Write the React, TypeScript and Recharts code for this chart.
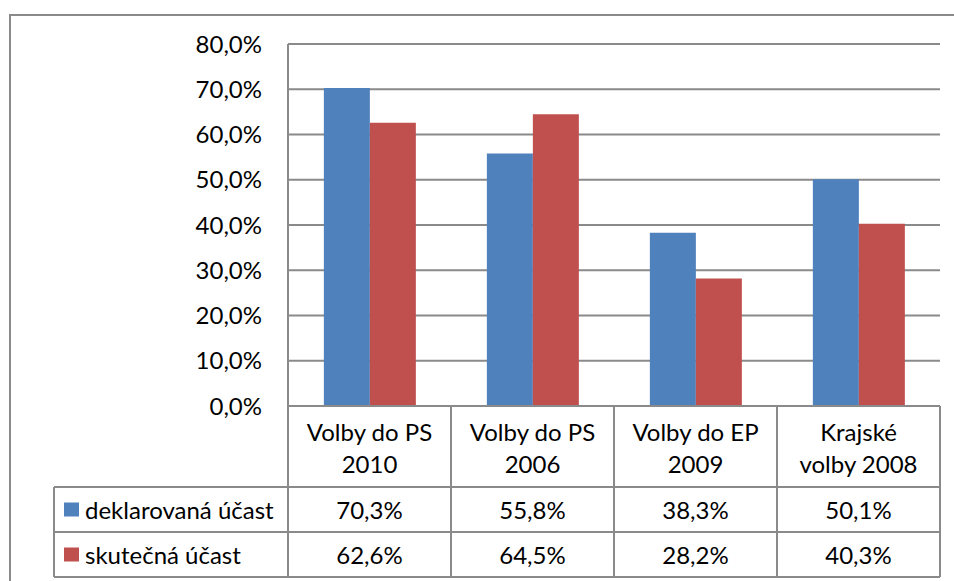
import React from 'react';
import { BarChart, Bar, XAxis, YAxis, CartesianGrid } from 'recharts';

const categories = ['Volby do PS 2010', 'Volby do PS 2006', 'Volby do EP 2009', 'Krajské volby 2008'];
const categoryLines = [
  ['Volby do PS', '2010'],
  ['Volby do PS', '2006'],
  ['Volby do EP', '2009'],
  ['Krajské', 'volby 2008'],
];
const declared = [70.3, 55.8, 38.3, 50.1];
const actual = [62.6, 64.5, 28.2, 40.3];
const seriesNames = ['deklarovaná účast', 'skutečná účast'];
const seriesColors = ['#4F81BD', '#C0504D'];
const yTicks = [0, 10, 20, 30, 40, 50, 60, 70, 80];

const data = categories.map((c, i) => ({ category: c, declared: declared[i], actual: actual[i] }));
const fmt = (v: number) => v.toFixed(1).replace('.', ',') + '%';

const FONT = 'Lato, sans-serif';
const FS = 24;
const LINE = '#8a8a8a';
const LW = 2;
const HEADER_H = 81;
const ROW_H = 45;
const LEGEND_LEFT = 54;

function TableTick(props: any) {
  const { x, y, payload } = props;
  const i: number = payload && payload.index != null ? payload.index : props.index;
  const half = payload && payload.offset ? payload.offset : 81.5;
  const left = x - half;
  const right = x + half;
  const y0 = y;
  const y1 = y0 + HEADER_H;
  const y2 = y1 + ROW_H;
  const y3 = y2 + ROW_H;
  const vals = [declared[i], actual[i]];
  const ln = { stroke: LINE, strokeWidth: LW };
  const txt = { fontFamily: FONT, fontSize: FS, fill: '#000', dominantBaseline: 'central' as const };
  return (
    <g>
      <line x1={right} y1={y0} x2={right} y2={y3} {...ln} />
      <line x1={left} y1={y1} x2={right} y2={y1} {...ln} />
      <line x1={left} y1={y2} x2={right} y2={y2} {...ln} />
      <line x1={left} y1={y3} x2={right} y2={y3} {...ln} />
      {i === 0 && (
        <g>
          <line x1={left} y1={y0} x2={left} y2={y3} {...ln} />
          <line x1={LEGEND_LEFT} y1={y1} x2={LEGEND_LEFT} y2={y3} {...ln} />
          <line x1={LEGEND_LEFT} y1={y1} x2={left} y2={y1} {...ln} />
          <line x1={LEGEND_LEFT} y1={y2} x2={left} y2={y2} {...ln} />
          <line x1={LEGEND_LEFT} y1={y3} x2={left} y2={y3} {...ln} />
          {seriesNames.map((n, k) => (
            <g key={n}>
              <rect x={LEGEND_LEFT + 10} y={y1 + k * ROW_H + ROW_H / 2 - 7} width={15} height={14} fill={seriesColors[k]} />
              <text x={LEGEND_LEFT + 31} y={y1 + k * ROW_H + ROW_H / 2} {...txt} textAnchor="start">{n}</text>
            </g>
          ))}
        </g>
      )}
      <text x={x} y={y0 + 25} {...txt} textAnchor="middle">{categoryLines[i][0]}</text>
      <text x={x} y={y0 + 57} {...txt} textAnchor="middle">{categoryLines[i][1]}</text>
      {vals.map((v, k) => (
        <text key={k} x={x} y={y1 + k * ROW_H + ROW_H / 2} {...txt} textAnchor="middle">{fmt(v)}</text>
      ))}
    </g>
  );
}

export default function App() {
  return (
    <div style={{ position: 'absolute', left: 0, top: 0, width: 954, height: 581, overflow: 'hidden', background: '#fff' }}>
      <div
        style={{
          position: 'absolute',
          left: 9,
          top: 14,
          width: 943,
          height: 565,
          borderLeft: `2px solid ${LINE}`,
          borderTop: `2px solid ${LINE}`,
        }}
      />
      <BarChart
        width={954}
        height={581}
        data={data}
        margin={{ top: 44, right: 14, left: 0, bottom: 0 }}
        barCategoryGap="22%"
        barGap={0}
      >
        <CartesianGrid vertical={false} stroke={LINE} strokeWidth={LW} />
        <XAxis
          dataKey="category"
          height={175}
          axisLine={{ stroke: LINE, strokeWidth: LW }}
          tickLine={false}
          tickSize={0}
          tickMargin={0}
          interval={0}
          tick={<TableTick />}
        />
        <YAxis
          width={288}
          domain={[0, 80]}
          ticks={yTicks}
          tickFormatter={fmt}
          axisLine={{ stroke: LINE, strokeWidth: LW }}
          tickLine={false}
          tickSize={0}
          tickMargin={26}
          tick={{ fontFamily: FONT, fontSize: FS, fill: '#000' }}
        />
        <Bar dataKey="declared" name={seriesNames[0]} fill={seriesColors[0]} isAnimationActive={false} />
        <Bar dataKey="actual" name={seriesNames[1]} fill={seriesColors[1]} isAnimationActive={false} />
      </BarChart>
    </div>
  );
}
